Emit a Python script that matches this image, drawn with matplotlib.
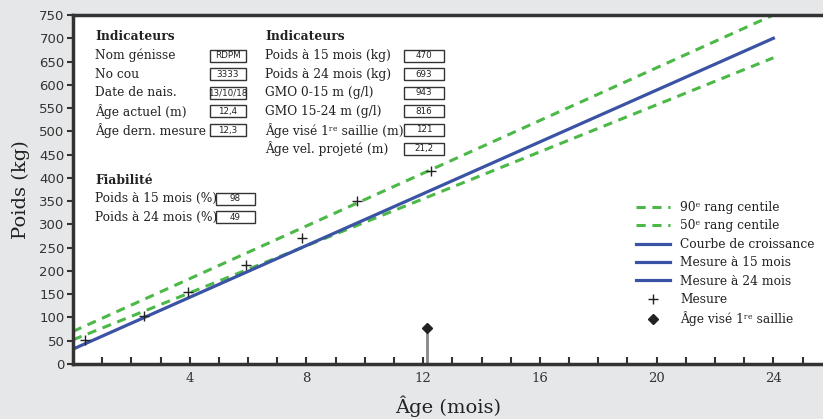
import numpy as np
import matplotlib.pyplot as plt
from matplotlib.lines import Line2D

# Growth curves (age in months, weight in kg)
age_line = [0, 24]
p90 = [70, 750]
p50 = [52, 658]
croissance = [32, 700]

# Measures
mes_age = [0.4, 2.43, 3.94, 5.92, 7.84, 9.73, 12.26]
mes_poids = [51, 103, 155, 213, 271, 350, 415]

# Target age first breeding
saillie_age = 12.12
saillie_y = 77

# Info boxes
ind1_labels = ['Nom génisse', 'No cou', 'Date de nais.', 'Âge actuel (m)', 'Âge dern. mesure']
ind1_values = ['RDPM', '3333', '13/10/18', '12,4', '12,3']
ind2_labels = ['Poids à 15 mois (kg)', 'Poids à 24 mois (kg)', 'GMO 0-15 m (g/l)',
               'GMO 15-24 m (g/l)', 'Âge visé 1ʳᵉ saillie (m)', 'Âge vel. projeté (m)']
ind2_values = ['470', '693', '943', '816', '121', '21,2']
fiab_labels = ['Poids à 15 mois (%)', 'Poids à 24 mois (%)']
fiab_values = ['98', '49']

BG = '#e6e7e8'
BLUE = '#3a53a4'
GREEN = '#4cb848'
DARK = '#333333'
SERIF = ['DejaVu Serif', 'DejaVu Sans']
FS = 8.8

fig = plt.figure(figsize=(8.23, 4.19), dpi=100, facecolor=BG)
ax = fig.add_axes([73/823, 55/419, 1 - 73/823, 349/419])
ax.set_facecolor('white')

ax.plot(age_line, p90, '--', color=GREEN, lw=2.2, dashes=(3, 2.2))
ax.plot(age_line, p50, '--', color=GREEN, lw=2.2, dashes=(3, 2.2))
ax.plot(age_line, croissance, '-', color=BLUE, lw=2.3)
ax.plot(mes_age, mes_poids, '+', color='#222222', ms=7.5, mew=1)
ax.plot([saillie_age, saillie_age], [0, saillie_y], color='#888888', lw=2)
ax.plot([saillie_age], [saillie_y], 'D', color='#222222', ms=5.5)

ax.set_xlim(0, 25.7)
ax.set_ylim(0, 750)
ax.set_yticks(np.arange(0, 751, 50))
ax.tick_params(axis='y', direction='out', length=4, width=1.5, color=DARK,
               labelsize=9.5, labelcolor='#333333', pad=2)
xt = np.arange(1, 26)
ax.set_xticks(xt)
ax.set_xticklabels([str(v) if v % 4 == 0 else '' for v in xt], family=SERIF)
ax.tick_params(axis='x', direction='in', length=5, width=1.5, color=DARK,
               labelsize=9.5, labelcolor='#333333', pad=6)
for s in ['left', 'bottom', 'top']:
    ax.spines[s].set_color(DARK)
    ax.spines[s].set_linewidth(2.5)
ax.spines['right'].set_visible(False)

ax.set_ylabel('Poids (kg)', family=SERIF, fontsize=14, color='#222222', labelpad=7)
ax.set_xlabel('Âge (mois)', family=SERIF, fontsize=14, color='#222222', labelpad=7)

# Text blocks
def px(x, y):
    return x / 823, 1 - y / 419

def block(x0, y0, title, labels, values, bx0, bx1):
    fig.text(*px(x0, y0), title, family=SERIF, fontsize=FS, fontweight='bold',
             color='#222222', va='center')
    for i, (lab, val) in enumerate(zip(labels, values)):
        y = y0 + 18.6 * (i + 1)
        fig.text(*px(x0, y), lab, family=SERIF, fontsize=FS, color='#222222', va='center')
        xa, ya = px(bx0, y + 6)
        xb, yb = px(bx1, y - 6)
        fig.patches.append(plt.Rectangle((xa, ya), xb - xa, yb - ya, transform=fig.transFigure,
                                         facecolor='white', edgecolor='#333333', lw=1))
        fig.text(*px((bx0 + bx1) / 2, y), val, family=['Liberation Sans Narrow', 'DejaVu Sans'],
                 fontsize=6.3, color='#222222', ha='center', va='center')

block(95, 37, 'Indicateurs', ind1_labels, ind1_values, 210, 246)
block(265, 37, 'Indicateurs', ind2_labels, ind2_values, 404, 444)
block(95, 180, 'Fiabilité', fiab_labels, fiab_values, 216, 255)

handles = [
    Line2D([], [], ls='--', color=GREEN, lw=2.2, dashes=(3, 2.2)),
    Line2D([], [], ls='--', color=GREEN, lw=2.2, dashes=(3, 2.2)),
    Line2D([], [], color=BLUE, lw=2.3),
    Line2D([], [], color=BLUE, lw=2.3),
    Line2D([], [], color=BLUE, lw=2.3),
    Line2D([], [], ls='', marker='+', color='#222222', ms=7.5, mew=1),
    Line2D([], [], ls='', marker='D', color='#222222', ms=5.5),
]
labels = ['90ᵉ rang centile', '50ᵉ rang centile', 'Courbe de croissance',
          'Mesure à 15 mois', 'Mesure à 24 mois', 'Mesure', 'Âge visé 1ʳᵉ saillie']
leg = ax.legend(handles, labels, loc='upper left', bbox_to_anchor=(630/823, 1 - 195/419),
                bbox_transform=fig.transFigure, frameon=False, handlelength=2.8,
                handletextpad=0.8, labelspacing=0.44, borderpad=0,
                prop={'family': SERIF, 'size': FS})
for t in leg.get_texts():
    t.set_color('#222222')

fig.savefig('out.png', dpi=100, facecolor=BG)
